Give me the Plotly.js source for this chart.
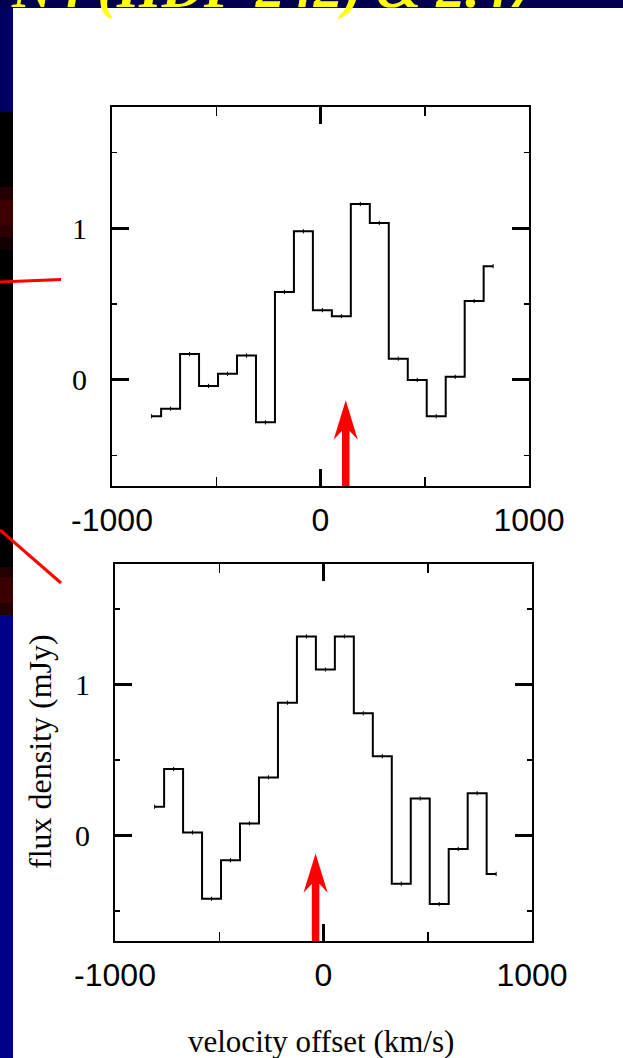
<!DOCTYPE html>
<html>
<head>
<meta charset="utf-8">
<script src="https://cdn.plot.ly/plotly-3.0.1.min.js"></script>
<style>html,body{margin:0;padding:0;background:#00004f;}#chart{width:623px;height:1058px;}</style>
</head>
<body>
<div id="chart"></div>
<script>
// ---- data ----
const VELOCITY = [-810, -719, -628, -537, -446, -355, -264, -173, -82, 9, 100, 191, 282, 373, 464, 555, 646, 737, 828];
const FLUX_TOP = [-0.24, -0.19, 0.17, -0.04, 0.04, 0.16, -0.28, 0.58, 0.98, 0.46, 0.42, 1.16, 1.035, 0.14, 0.0, -0.24, 0.02, 0.52, 0.75];
const FLUX_BOTTOM = [0.19, 0.44, 0.02, -0.42, -0.165, 0.08, 0.385, 0.88, 1.32, 1.10, 1.32, 0.81, 0.525, -0.32, 0.245, -0.455, -0.09, 0.28, -0.255];
const X_TICKS = [-1000, 0, 1000];
const X_TICK_TEXT = ['-1000', '0', '1000'];
const Y_TICKS = [0, 1];
const Y_TICK_TEXT = ['0', '1'];
const ARROW_VEL = [121, -38];      // arrow positions (km/s) in top / bottom panel
const ARROW_TIP = [-0.135, -0.12]; // arrow tip flux
const X_TITLE = 'velocity offset (km/s)';
const Y_TITLE = 'flux density (mJy)';
const HEADER = 'N4 (HDF 242) & 2.47';

// ---- geometry helpers ----
const W = 623, H = 1058;
const px = v => v / W;
const py = v => 1 - v / H;

const serif = 'Liberation Serif, Times New Roman, serif';
const sans = 'Liberation Sans, Arial, sans-serif';

function xAxis(domain, anchor) {
  return {
    domain: domain, anchor: anchor, range: [-1000, 1000],
    tickmode: 'array', tickvals: X_TICKS, ticktext: X_TICK_TEXT,
    ticks: 'inside', ticklen: 17, tickwidth: 3, tickcolor: '#000',
    minor: {tick0: 0, dtick: 500, ticks: 'inside', ticklen: 9, tickwidth: 1.5, tickcolor: '#000'},
    showline: true, linewidth: 2, linecolor: '#000', mirror: 'allticks',
    showgrid: false, zeroline: false,
    tickfont: {family: sans, size: 32, color: '#000'},
    ticklabelstandoff: 5, fixedrange: true
  };
}
function yAxis(domain, anchor) {
  return {
    domain: domain, anchor: anchor, range: [-0.7, 1.8],
    tickmode: 'array', tickvals: Y_TICKS, ticktext: Y_TICK_TEXT,
    ticks: 'inside', ticklen: 17, tickwidth: 3, tickcolor: '#000',
    minor: {tick0: 0, dtick: 0.5, ticks: 'inside', ticklen: 5, tickwidth: 1.5, tickcolor: '#000'},
    showline: true, linewidth: 2, linecolor: '#000', mirror: 'allticks',
    showgrid: false, zeroline: false,
    tickfont: {family: serif, size: 30, color: '#000'},
    ticklabelstandoff: 17, fixedrange: true
  };
}

const stepLine = {color: '#000', width: 2, shape: 'hvh'};
const tickMarker = {symbol: 'line-ns-open', size: 3, line: {color: '#000', width: 1}, color: '#000'};

const traces = [
  {x: VELOCITY, y: FLUX_TOP, xaxis: 'x', yaxis: 'y', mode: 'lines+markers', line: stepLine, marker: tickMarker, hoverinfo: 'x+y'},
  {x: VELOCITY, y: FLUX_BOTTOM, xaxis: 'x2', yaxis: 'y2', mode: 'lines+markers', line: stepLine, marker: tickMarker, hoverinfo: 'x+y'}
];

function arrowPath(v, tip) {
  const sh = 18, hw = 58;
  const notch = tip - 0.2, barb = tip - 0.26, bottom = -0.9;
  return `M ${v - sh},${bottom} L ${v - sh},${notch} L ${v - hw},${barb} L ${v},${tip} ` +
         `L ${v + hw},${barb} L ${v + sh},${notch} L ${v + sh},${bottom} Z`;
}

const shapes = [
  // white slide area
  {type: 'rect', xref: 'paper', yref: 'paper', x0: px(13), x1: 1.01, y0: -0.01, y1: py(8), fillcolor: '#fff', line: {width: 0}, layer: 'below'},
  // left image strip
  {type: 'rect', xref: 'paper', yref: 'paper', x0: 0, x1: px(13), y0: py(112), y1: py(8), fillcolor: '#000060', line: {width: 0}, layer: 'below'},
  {type: 'rect', xref: 'paper', yref: 'paper', x0: 0, x1: px(13), y0: py(615), y1: py(112), fillcolor: '#000', line: {width: 0}, layer: 'below'},
  {type: 'rect', xref: 'paper', yref: 'paper', x0: 0, x1: px(13), y0: py(1058), y1: py(615), fillcolor: '#00008a', line: {width: 0}, layer: 'below'},
  {type: 'rect', xref: 'paper', yref: 'paper', x0: 0, x1: px(13), y0: py(200), y1: py(187), fillcolor: '#200000', line: {width: 0}, layer: 'below'},
  {type: 'rect', xref: 'paper', yref: 'paper', x0: 0, x1: px(13), y0: py(225), y1: py(200), fillcolor: '#3c0000', line: {width: 0}, layer: 'below'},
  {type: 'rect', xref: 'paper', yref: 'paper', x0: 0, x1: px(13), y0: py(237), y1: py(225), fillcolor: '#2a0000', line: {width: 0}, layer: 'below'},
  {type: 'rect', xref: 'paper', yref: 'paper', x0: 0, x1: px(13), y0: py(250), y1: py(237), fillcolor: '#140000', line: {width: 0}, layer: 'below'},
  {type: 'rect', xref: 'paper', yref: 'paper', x0: 0, x1: px(13), y0: py(577), y1: py(567), fillcolor: '#200000', line: {width: 0}, layer: 'below'},
  {type: 'rect', xref: 'paper', yref: 'paper', x0: 0, x1: px(13), y0: py(603), y1: py(577), fillcolor: '#3a0000', line: {width: 0}, layer: 'below'},
  {type: 'rect', xref: 'paper', yref: 'paper', x0: 0, x1: px(13), y0: py(615), y1: py(603), fillcolor: '#250000', line: {width: 0}, layer: 'below'},
  // red pointer lines
  {type: 'line', xref: 'paper', yref: 'paper', x0: 0, y0: py(282), x1: px(61), y1: py(279.5), line: {color: '#ff0000', width: 3}, layer: 'above'},
  {type: 'line', xref: 'paper', yref: 'paper', x0: 0, y0: py(530), x1: px(61), y1: py(583), line: {color: '#ff0000', width: 3}, layer: 'above'},
  // red arrows
  {type: 'path', xref: 'x', yref: 'y', path: arrowPath(ARROW_VEL[0], ARROW_TIP[0]), fillcolor: '#ff0000', line: {width: 0}, layer: 'above'},
  {type: 'path', xref: 'x2', yref: 'y2', path: arrowPath(ARROW_VEL[1], ARROW_TIP[1]), fillcolor: '#ff0000', line: {width: 0}, layer: 'above'}
];

const annotations = [
  {text: X_TITLE, xref: 'paper', yref: 'paper', x: px(321), y: py(1041), xanchor: 'center', yanchor: 'middle', showarrow: false,
   font: {family: serif, size: 31, color: '#000'}},
  {text: Y_TITLE, xref: 'paper', yref: 'paper', x: px(40), y: py(752), xanchor: 'center', yanchor: 'middle', showarrow: false, textangle: -90,
   font: {family: serif, size: 32, color: '#000'}}
];

const layout = {
  width: W, height: H,
  margin: {l: 0, r: 0, t: 0, b: 0, pad: 0},
  paper_bgcolor: '#00004f', plot_bgcolor: '#fff',
  showlegend: false,
  // slide header, mostly cut off above the picture: only the bottoms of the glyphs show
  title: {text: HEADER, xref: 'container', yref: 'container', x: px(12), xanchor: 'left', y: py(7), yanchor: 'bottom',
          font: {family: serif, size: 58, color: '#ffff00', style: 'italic', weight: 'bold'}},
  xaxis: xAxis([px(112), px(529)], 'y'),
  yaxis: yAxis([py(486), py(107)], 'x'),
  xaxis2: xAxis([px(115), px(532)], 'y2'),
  yaxis2: yAxis([py(941), py(564)], 'x2'),
  shapes: shapes,
  annotations: annotations
};

Plotly.newPlot('chart', traces, layout, {displayModeBar: false, staticPlot: true});
</script>
</body>
</html>
